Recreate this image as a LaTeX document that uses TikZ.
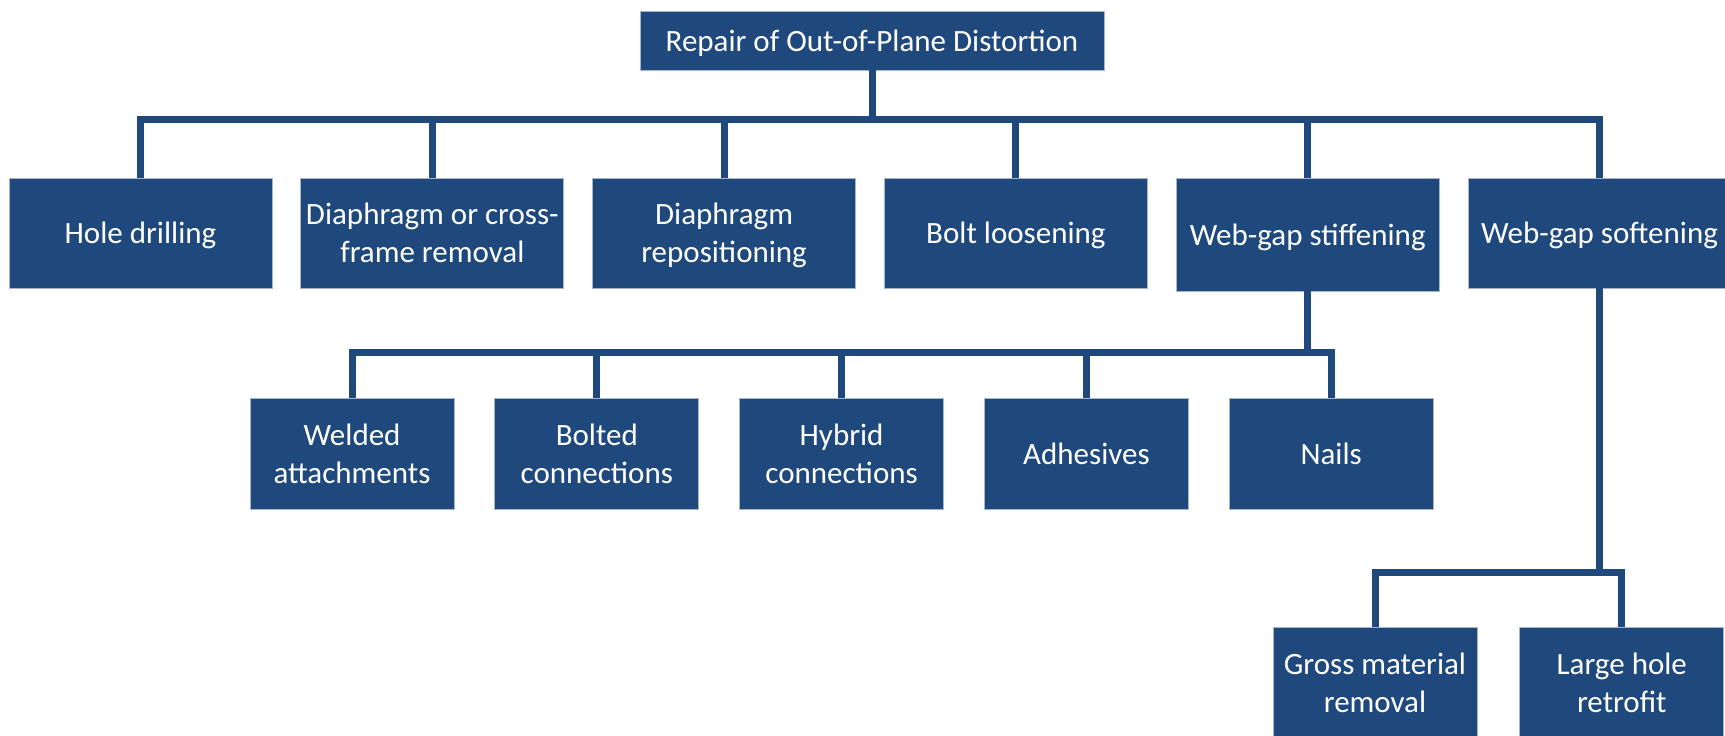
\documentclass[tikz,border=0pt]{standalone}
\usepackage{fontspec}
\setmainfont{Carlito}
\usetikzlibrary{positioning}
\definecolor{boxblue}{RGB}{31,73,125}
\tikzset{box/.style={rectangle,fill=boxblue,draw=boxblue!40!white,line width=0.8pt,text=white,align=center,inner sep=2pt,text depth=0pt,font=\fontsize{31}{38}\selectfont}}
\tikzset{topbox/.style={box,minimum width=263pt,minimum height=110pt}}
\tikzset{subbox/.style={box,minimum width=204pt,minimum height=111pt}}
\tikzset{link/.style={draw=boxblue,line width=7pt}}

\begin{document}
\begin{tikzpicture}[x=1pt,y=-1pt]
	\useasboundingbox (0,0) rectangle (1725,736);
	\node[box,minimum width=464pt,minimum height=59pt] (root) at (872,40.5) {Repair of Out-of-Plane Distortion};
	% first row
	\node[topbox] (hole) at (140.5,233) {Hole drilling};
	\node[topbox,right=28pt of hole] (diaremove) {Diaphragm or cross-\\frame removal};
	\node[topbox,right=28pt of diaremove] (diarepos) {Diaphragm\\repositioning};
	\node[topbox,right=28pt of diarepos] (bolt) {Bolt loosening};
	\node[topbox,right=28pt of bolt,minimum height=113pt,yshift=-1.5pt] (stiff) {Web-gap stiffening};
	\node[topbox,right=28pt of stiff,yshift=1.5pt] (soft) {Web-gap softening};
	% second row
	\node[subbox] (welded) at (352,454) {Welded\\attachments};
	\node[subbox,right=40pt of welded] (bolted) {Bolted\\connections};
	\node[subbox,right=40pt of bolted] (hybrid) {Hybrid\\connections};
	\node[subbox,right=40pt of hybrid] (adhes) {Adhesives};
	\node[subbox,right=40pt of adhes] (nails) {Nails};
	% third row
	\node[subbox] (gross) at (1375,682.5) {Gross material\\removal};
	\node[subbox,right=42pt of gross] (large) {Large hole\\retrofit};

	\coordinate (bus1) at (0,119);
	\coordinate (bus2) at (0,352);
	\coordinate (bus3) at (0,572);

	\draw[link] (root.south) -- (root.south |- bus1);
	\foreach \n in {hole,diaremove,diarepos,bolt,stiff,soft}{
		\draw[link] (root.south |- bus1) -| (\n.north);
	}
	\draw[link] (stiff.south) -- (stiff.south |- bus2);
	\foreach \n in {welded,bolted,hybrid,adhes,nails}{
		\draw[link] (stiff.south |- bus2) -| (\n.north);
	}
	\draw[link] (soft.south) -- (soft.south |- bus3);
	\foreach \n in {gross,large}{
		\draw[link] (soft.south |- bus3) -| (\n.north);
	}
\end{tikzpicture}
\end{document}
